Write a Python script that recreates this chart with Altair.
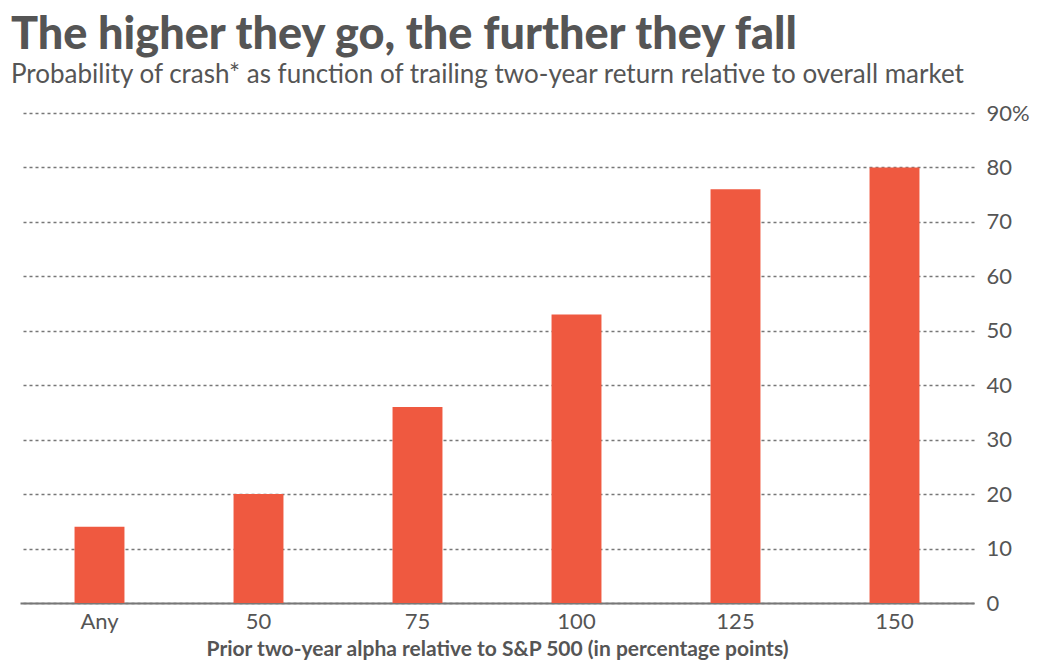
import altair as alt
import pandas as pd

categories = ["Any", "50", "75", "100", "125", "150"]
probabilities = [14, 20, 36, 53, 76, 80]
y_ticks = [0, 10, 20, 30, 40, 50, 60, 70, 80, 90]

df = pd.DataFrame({"alpha": categories, "prob": probabilities})

chart = alt.Chart(df).mark_bar(color="#EF5940").encode(
    x=alt.X(
        "alpha:N",
        sort=categories,
        scale=alt.Scale(paddingInner=0.686, paddingOuter=0.343),
        axis=alt.Axis(
            title="Prior two-year alpha relative to S&P 500 (in percentage points)",
            labelAngle=0,
            labelFontSize=22,
            labelColor="#555555",
            labelFont="Lato",
            labelPadding=8,
            ticks=False,
            domainColor="#777777",
            domainWidth=2,
            titleFont="Lato",
            titleFontSize=21,
            titleFontWeight="bold",
            titleColor="#555555",
            titlePadding=6,
            grid=False,
        ),
    ),
    y=alt.Y(
        "prob:Q",
        scale=alt.Scale(domain=[0, 90], nice=False),
        axis=alt.Axis(
            orient="right",
            title=None,
            values=y_ticks,
            labelExpr="datum.value == 90 ? '90%' : datum.label",
            labelFontSize=22,
            labelColor="#555555",
            labelFont="Lato",
            labelPadding=12,
            ticks=False,
            domain=False,
            grid=True,
            gridColor="#777777",
            gridDash=[3, 3],
            gridWidth=1.3,
        ),
    ),
).properties(
    width=954,
    height=490,
    title=alt.TitleParams(
        text="The higher they go, the further they fall",
        subtitle="Probability of crash* as function of trailing two-year return relative to overall market",
        anchor="start",
        frame="group",
        dx=-9,
        font="Lato",
        fontSize=45,
        fontWeight=900,
        color="#555555",
        subtitleFont="Lato",
        subtitleFontSize=26,
        subtitleColor="#555555",
        subtitlePadding=4,
        offset=14,
    ),
    autosize=alt.AutoSizeParams(type="none"),
    padding={"left": 12, "top": 105, "right": 60, "bottom": 60},
).configure_view(stroke=None)

chart.save("out.html", embed_options={"renderer": "svg", "actions": False})
